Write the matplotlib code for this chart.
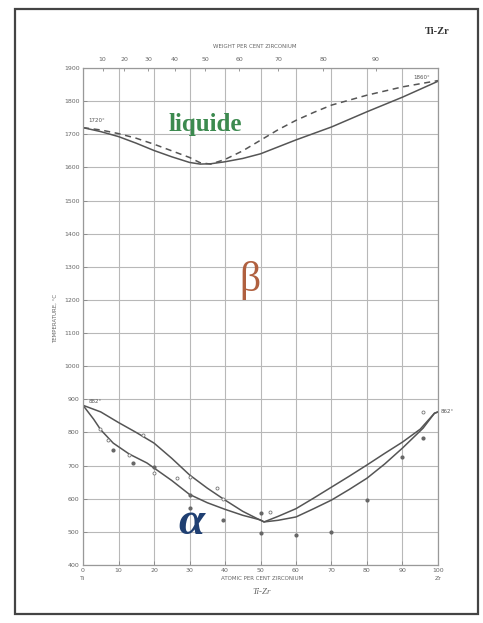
import matplotlib
matplotlib.use("Agg")
import matplotlib.pyplot as plt
import numpy as np
from matplotlib.patches import Rectangle

# ---------------- data ----------------
at_ticks = [0, 10, 20, 30, 40, 50, 60, 70, 80, 90, 100]
temp_ticks = [400, 500, 600, 700, 800, 900, 1000, 1100, 1200, 1300,
              1400, 1500, 1600, 1700, 1800, 1900]
wt_ticks = [10, 20, 30, 40, 50, 60, 70, 80, 90]

# liquidus (dashed)
liq_x = [0, 5, 10, 15, 20, 25, 30, 33, 36, 40, 45, 50, 55, 60, 65, 70, 80, 90, 100]
liq_t = [1720, 1713, 1702, 1688, 1670, 1650, 1630, 1614, 1610, 1624, 1650, 1682,
         1714, 1742, 1766, 1788, 1818, 1843, 1862]
# solidus (solid)
sol_x = [0, 5, 10, 15, 20, 25, 30, 33, 36, 40, 45, 50, 55, 60, 70, 80, 90, 100]
sol_t = [1720, 1708, 1693, 1673, 1651, 1632, 1615, 1610, 1611, 1617, 1627, 1641,
         1662, 1683, 1722, 1768, 1812, 1860]
# beta transus upper curve
up_x = [0, 5, 10, 15, 20, 25, 30, 35, 40, 45, 50, 51, 55, 60, 65, 70, 75, 80, 85, 90, 95, 99, 100]
up_t = [882, 862, 830, 800, 768, 722, 672, 632, 596, 562, 535, 530, 547, 570, 602,
        635, 668, 702, 737, 771, 810, 858, 862]
# lower curve
lo_x = [0, 3, 5, 8.5, 13, 18, 25, 30, 35, 40, 45, 50, 51, 55, 60, 65, 70, 75, 80, 85, 90, 95.8, 99, 100]
lo_t = [882, 840, 808, 768, 735, 708, 655, 613, 588, 568, 550, 536, 530, 535, 545,
        570, 596, 628, 662, 705, 753, 813, 858, 862]
# experimental points
pts_open_x = [4.8, 7, 13, 17, 20, 26.5, 37.7, 39.5, 52.7, 95.8, 30]
pts_open_t = [810, 777, 732, 792, 678, 662, 632, 600, 560, 862, 665]
pts_fill_x = [8.5, 14, 20, 30, 30, 39.5, 50, 50, 60, 70, 80, 90, 95.8]
pts_fill_t = [747, 708, 696, 611, 572, 537, 557, 497, 490, 500, 596, 726, 783]

# ---------------- figure ----------------
W, H = 483, 623
fig = plt.figure(figsize=(W / 100, H / 100), dpi=100)
fig.patch.set_facecolor("white")

# page frame
fig.patches.append(Rectangle((15 / W, 1 - 614 / H), (478 - 15) / W, (614 - 9) / H,
                             transform=fig.transFigure, fill=False,
                             edgecolor="#444444", linewidth=1.6))

ax = fig.add_axes([83 / W, 1 - 565 / H, (438 - 83) / W, (565 - 68) / H])
ax.set_xlim(0, 100)
ax.set_ylim(400, 1900)
ax.set_xticks(at_ticks)
ax.set_yticks(temp_ticks)
ax.set_xticklabels([str(v) for v in at_ticks])
ax.set_yticklabels([str(v) for v in temp_ticks])
ax.grid(True, color="#b8b8b8", linewidth=0.8)
ax.set_axisbelow(True)
for s in ax.spines.values():
    s.set_color("#999999")
    s.set_linewidth(0.9)
ax.tick_params(direction="in", length=3, width=0.6, color="#888888",
               labelsize=4.5, labelcolor="#666666", pad=2.5)

lc = "#555555"
ax.plot(liq_x, liq_t, color=lc, linewidth=1.1, linestyle=(0, (4, 3)))
ax.plot(sol_x, sol_t, color=lc, linewidth=1.1)
ax.plot(up_x, up_t, color=lc, linewidth=1.1)
ax.plot(lo_x, lo_t, color=lc, linewidth=1.1)
ax.plot(pts_open_x, pts_open_t, linestyle="none", marker="o", markersize=2.2,
        markerfacecolor="white", markeredgecolor="#777777", markeredgewidth=0.6)
ax.plot(pts_fill_x, pts_fill_t, linestyle="none", marker="o", markersize=2.0,
        color="#666666")

# small temperature labels
ax.text(1.5, 1738, "1720°", fontsize=4, color="#555555")
ax.text(93, 1868, "1860°", fontsize=4, color="#555555")
ax.text(1.5, 888, "882°", fontsize=4, color="#555555")
ax.text(100.8, 858, "862°", fontsize=4, color="#555555", clip_on=False)

# phase labels
ax.text(34.5, 1730, "liquide", fontsize=18, fontweight="bold",
        family="Liberation Serif", color="#3c8a4f", ha="center", va="center")
ax.text(47, 1260, "β", fontsize=30, family="Liberation Serif",
        color="#b0603f", ha="center", va="center")
ax.text(30.5, 528, "α", fontsize=34, fontweight="bold", fontstyle="italic",
        family="Liberation Serif", color="#1f3f72", ha="center", va="center")

# top weight-percent axis
MTI, MZR = 47.87, 91.22


def at2wt(a):
    a = np.asarray(a, dtype=float)
    return 100 * a * MZR / (a * MZR + (100 - a) * MTI)


def wt2at(w):
    w = np.asarray(w, dtype=float)
    return 100 * (w / MZR) / (w / MZR + (100 - w) / MTI)


sec = ax.secondary_xaxis("top", functions=(at2wt, wt2at))
sec.set_xticks(wt_ticks)
sec.set_xticklabels([str(v) for v in wt_ticks])
sec.tick_params(direction="in", length=2.5, width=0.6, color="#888888",
                labelsize=4.5, labelcolor="#666666", pad=4)
sec.spines["top"].set_visible(False)

fig.text(255 / W, 1 - 46 / H, "WEIGHT PER CENT ZIRCONIUM", fontsize=4,
         color="#666666", ha="center", va="center")
fig.text(262 / W, 1 - 578 / H, "ATOMIC PER CENT ZIRCONIUM", fontsize=4,
         color="#666666", ha="center", va="center")
fig.text(83 / W, 1 - 578 / H, "Ti", fontsize=4.5, color="#666666",
         ha="center", va="center")
fig.text(438 / W, 1 - 578 / H, "Zr", fontsize=4.5, color="#666666",
         ha="center", va="center")
fig.text(262 / W, 1 - 592 / H, "Ti-Zr", fontsize=6.5, fontstyle="italic",
         family="Liberation Serif", color="#666666", ha="center", va="center")
fig.text(55 / W, 1 - 318 / H, "TEMPERATURE, °C", fontsize=4, rotation=90,
         color="#666666", ha="center", va="center")
fig.text(437 / W, 1 - 32 / H, "Ti-Zr", fontsize=7.5, fontweight="bold",
         family="Liberation Serif", color="#333333", ha="center", va="center")

fig.savefig("out.png", dpi=100, facecolor="white")
